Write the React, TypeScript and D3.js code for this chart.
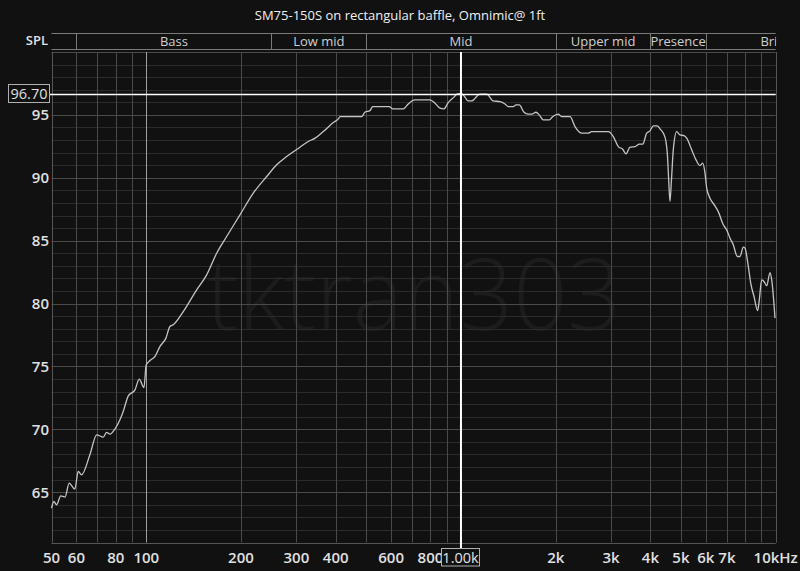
import React from "react";
import * as d3 from "d3";

const title = "SM75-150S on rectangular baffle, Omnimic@ 1ft";
const freqs = [50.0,50.9,51.9,53.5,55.2,56.9,59.3,60.8,62.3,66.2,69.6,73.0,74.8,76.7,79.5,82.5,84.5,87.7,92.1,95.0,98.3,100,102.8,106.6,110.5,115.5,118.9,121.8,131.1,144.6,155.6,167.4,180.1,198.5,218.8,241.4,259.7,279.3,307.9,327,344,365,393,407,413,484,495,514,524,592,607,656,680,714,797,827,858,883,911,950,973,1000,1017,1055,1081,1149,1207,1266,1330,1380,1413,1466,1496,1532,1586,1636,1678,1731,1773,1826,1908,1956,2038,2089,2221,2303,2418,2539,2602,2939,3048,3161,3265,3345,3444,3572,3687,3780,3892,3987,4084,4205,4289,4394,4481,4524,4571,4614,4658,4727,4846,4965,5112,5214,5409,5582,5747,5862,5962,6036,6183,6413,6570,6816,6987,7158,7333,7551,7702,7890,7989,8185,8330,8533,8765,8869,9025,9180,9364,9592,9713,9950];
const spl = [63.74,64.26,64.00,64.71,64.61,65.72,65.25,66.65,66.38,67.97,69.56,69.38,69.75,69.62,70.02,70.76,71.42,72.66,73.14,73.99,73.32,75.13,75.47,75.79,76.58,77.25,78.17,78.31,79.36,81.09,82.28,84.00,85.33,87.05,88.78,90.10,91.03,91.69,92.43,92.88,93.15,93.67,94.39,94.66,94.86,94.86,95.21,95.34,95.66,95.66,95.48,95.48,95.87,96.19,96.19,95.93,95.53,95.48,95.98,96.41,96.67,96.70,96.59,96.11,96.11,96.65,96.65,96.11,96.06,95.87,95.66,95.66,95.79,95.79,95.21,95.06,95.06,95.21,95.00,94.60,94.60,94.86,95.06,94.86,94.86,94.07,93.55,93.55,93.67,93.67,93.28,92.48,92.27,91.90,92.43,92.48,92.67,92.67,93.55,93.73,94.13,94.13,93.89,93.55,92.88,91.96,89.83,88.11,89.57,92.22,93.67,93.41,93.35,93.15,92.22,91.42,90.97,91.16,90.37,89.17,88.38,87.77,87.31,86.26,85.86,85.20,84.67,83.74,83.74,84.48,84.40,82.94,81.62,80.56,79.44,80.29,81.88,81.75,81.41,82.46,81.88,78.84];

const xTickValues = [50,60,80,100,200,300,400,600,800,2000,3000,4000,5000,6000,7000,10000];
const xTickLabels = ["50","60","80","100","200","300","400","600","800","2k","3k","4k","5k","6k","7k","10kHz"];
const yTickValues = [65,70,75,80,85,90,95];
const bandEdges = [20,60,250,500,2000,4000,6000,20000];
const bandNames = ["Sub bass","Bass","Low mid","Mid","Upper mid","Presence","Brilliance"];
const cursorFreq = 1000;
const cursorSPL = 96.70;
const cursorFreqLabel = "1.00k";
const cursorSPLLabel = "96.70";
const watermark = "tktran303";

const W = 800, H = 571;
const L = 51.5, R = 775.7, T = 52, B = 542.5;
const FONT = "'Open Sans', 'Noto Sans', sans-serif";

export default function App() {
  const x = d3.scaleLog().domain([50, 10000]).range([L, R]);
  const y = d3.scaleLinear().domain([61, 100]).range([B, T]);
  const vTicks = x.ticks();
  const hTicks = d3.range(61, 101, 1);
  const pts = freqs.map((f, i) => [f, spl[i]] as [number, number]);
  const line = d3.line<[number, number]>().x(d => x(d[0])).y(d => y(d[1])).curve(d3.curveMonotoneX);
  const cx = x(cursorFreq), cy = y(cursorSPL);
  return (
    <div style={{ position: "absolute", left: 0, top: 0, width: W, height: H }}>
      <svg width={W} height={H} style={{ display: "block", background: "#111111" }} fontFamily={FONT}>
        <defs>
          <clipPath id="plotclip"><rect x={L - 0.5} y={0} width={R - L + 1} height={H} /></clipPath>
        </defs>
        <rect x={0} y={0} width={W} height={H} fill="#111111" />
        <text x={400} y={20} textAnchor="middle" fill="#f0f0f0" fontSize={13}>{title}</text>
        {/* watermark */}
        <text x={414} y={330} textAnchor="middle" fill="#1c1c1c" fontSize={100} fontWeight={300} textLength={415} lengthAdjust="spacingAndGlyphs">{watermark}</text>
        {/* horizontal grid */}
        {hTicks.map(v => (
          <line key={"h" + v} x1={L} x2={R} y1={Math.round(y(v)) + 0.5} y2={Math.round(y(v)) + 0.5}
            stroke={v % 5 === 0 ? "#4a4a4a" : "#2b2b2b"} strokeWidth={1} />
        ))}
        {/* vertical grid */}
        {vTicks.map(v => (
          <line key={"v" + v} x1={Math.round(x(v)) + 0.5} x2={Math.round(x(v)) + 0.5} y1={T} y2={B}
            stroke={v === 100 ? "#a0a0a0" : "#4a4a4a"} strokeWidth={1} />
        ))}
        <line x1={L} x2={R} y1={Math.round(B) + 0.5} y2={Math.round(B) + 0.5} stroke="#555" />
        <line x1={Math.round(L) + 0.5} x2={Math.round(L) + 0.5} y1={T} y2={B} stroke="#555" />
        <line x1={Math.round(R) + 0.5} x2={Math.round(R) + 0.5} y1={T} y2={B} stroke="#555" />
        {/* band header */}
        <g clipPath="url(#plotclip)">
          <line x1={L} x2={R} y1={33.5} y2={33.5} stroke="#7a7a7a" />
          <line x1={L} x2={R} y1={49.5} y2={49.5} stroke="#7a7a7a" />
          {bandEdges.slice(1, -1).map(e => (
            <line key={"be" + e} x1={Math.round(x(e)) + 0.5} x2={Math.round(x(e)) + 0.5} y1={33.5} y2={49.5} stroke="#7a7a7a" />
          ))}
          {bandNames.map((n, i) => {
            const c = x(Math.sqrt(bandEdges[i] * bandEdges[i + 1]));
            if (c < L) return null;
            return <text key={n} x={c} y={46} textAnchor="middle" fill="#cfcfcf" fontSize={13}>{n}</text>;
          })}
        </g>
        <text x={48} y={45} textAnchor="end" fill="#e0e0e0" fontSize={13} fontWeight={600}>SPL</text>
        {/* y labels */}
        {yTickValues.map(v => (
          <text key={"yl" + v} x={49} y={y(v) + 5.5} textAnchor="end" fill="#e0e0e0" fontSize={15} fontWeight={600}>{v}</text>
        ))}
        {/* x labels */}
        {xTickValues.map((v, i) => (
          <text key={"xl" + v} x={x(v)} y={563} textAnchor="middle" fill="#e0e0e0" fontSize={15} fontWeight={600}>{xTickLabels[i]}</text>
        ))}
        {/* curve */}
        <path d={line(pts) || ""} fill="none" stroke="#c4c4c4" strokeWidth={1.3} />
        {/* cursor */}
        <line x1={49.5} x2={R} y1={Math.round(cy) + 0.5} y2={Math.round(cy) + 0.5} stroke="#ffffff" strokeWidth={1.3} />
        <line x1={cx} x2={cx} y1={T} y2={548} stroke="#ffffff" strokeWidth={2} />
        <rect x={8.5} y={84.5} width={41} height={18} fill="#111111" stroke="#b0b0b0" />
        <text x={29} y={98.5} textAnchor="middle" fill="#e0e0e0" fontSize={14.5}>{cursorSPLLabel}</text>
        <rect x={441.5} y={548.5} width={38} height={17.5} fill="#111111" stroke="#b0b0b0" />
        <text x={460.5} y={562.5} textAnchor="middle" fill="#e0e0e0" fontSize={14.5}>{cursorFreqLabel}</text>
      </svg>
    </div>
  );
}
